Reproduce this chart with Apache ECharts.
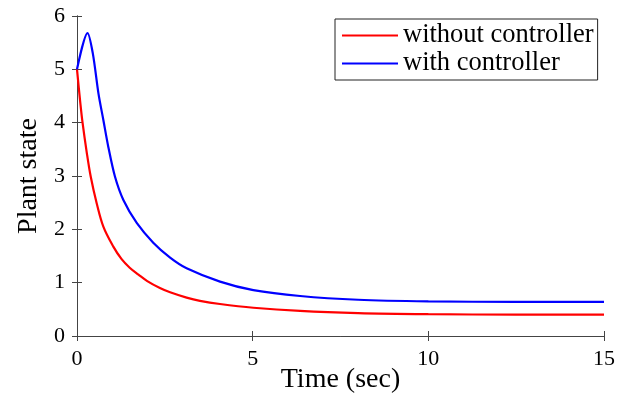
<!DOCTYPE html>
<html>
<head>
<meta charset="utf-8">
<script src="https://cdn.jsdelivr.net/npm/echarts@6/dist/echarts.min.js"></script>
<style>html,body{margin:0;padding:0;background:#fff}#c{width:628px;height:399px}</style>
</head>
<body>
<div id="c"></div>
<script>
var seriesNames = ['without controller', 'with controller'];
var timeWithout = [0, 0.085, 0.16, 0.28, 0.39, 0.56, 0.75, 1.03, 1.27, 1.5, 1.75, 2.0, 2.36, 2.65, 3.12, 3.5, 4.07, 5.02, 6.35, 8, 10, 12.5, 15];
var valWithout  = [5, 4.43, 3.99, 3.43, 2.99, 2.49, 2.05, 1.68, 1.44, 1.28, 1.15, 1.03, 0.90, 0.82, 0.72, 0.66, 0.60, 0.53, 0.47, 0.43, 0.41, 0.40, 0.40];
var timeWith = [0, 0.30, 0.45, 0.61, 0.75, 0.89, 1.08, 1.32, 1.70, 2.17, 2.65, 3.12, 4.07, 5.02, 6.35, 8, 10, 12.5, 15];
var valWith  = [5, 5.68, 5.3, 4.55, 4.05, 3.55, 2.99, 2.55, 2.12, 1.75, 1.47, 1.27, 1.02, 0.86, 0.75, 0.68, 0.65, 0.64, 0.64];
var xTicks = [0, 5, 10, 15];
var yTicks = [0, 1, 2, 3, 4, 5, 6];
var xTitle = 'Time (sec)';
var yTitle = 'Plant state';

function pairs(t, v) { return t.map(function (x, i) { return [x, v[i]]; }); }

var FONT = '"Liberation Serif", "Times New Roman", serif';
var axisColor = '#444';
var chart = echarts.init(document.getElementById('c'), null, {renderer: 'canvas'});
var grid = {left: 77, right: 24, top: 16, bottom: 63, containLabel: false, outerBoundsMode: 'none'};
var hiddenAxisCommon = {
  axisLine: {show: true, lineStyle: {color: axisColor, width: 1}},
  axisTick: {show: true, inside: true, length: 5, lineStyle: {color: axisColor}},
  axisLabel: {show: false},
  splitLine: {show: false}
};
chart.setOption({
  animation: false,
  backgroundColor: '#fff',
  grid: grid,
  legend: {
    orient: 'vertical',
    left: 335, top: 19,
    padding: [3, 4, 3, 7],
    itemGap: 1,
    itemWidth: 56, itemHeight: 2,
    icon: 'rect',
    borderColor: '#222', borderWidth: 1,
    backgroundColor: '#fff',
    textStyle: {fontFamily: FONT, fontSize: 26.5, color: '#000', lineHeight: 24.5, padding: [0, 0, 0, 0]},
    data: seriesNames
  },
  xAxis: [{
    type: 'value', min: xTicks[0], max: xTicks[xTicks.length - 1], interval: 5,
    name: xTitle, nameLocation: 'middle', nameGap: 30, nameMoveOverlap: false,
    nameTextStyle: {fontFamily: FONT, fontSize: 28, color: '#000', verticalAlign: 'top'},
    axisLine: {show: true, lineStyle: {color: axisColor, width: 1}},
    axisTick: {show: true, inside: true, length: 5, lineStyle: {color: axisColor}},
    axisLabel: {fontFamily: FONT, fontSize: 22, color: '#000', margin: 12},
    splitLine: {show: false}
  }, Object.assign({type: 'value', position: 'top', min: 0, max: 15, interval: 5}, hiddenAxisCommon)],
  yAxis: [{
    type: 'value', min: yTicks[0], max: yTicks[yTicks.length - 1], interval: 1,
    name: yTitle, nameLocation: 'middle', nameGap: 34,
    nameTextStyle: {fontFamily: FONT, fontSize: 28, color: '#000'},
    axisLine: {show: true, lineStyle: {color: axisColor, width: 1}},
    axisTick: {show: true, inside: true, length: 5, lineStyle: {color: axisColor}},
    axisLabel: {fontFamily: FONT, fontSize: 22, color: '#000', margin: 12},
    splitLine: {show: false}
  }, Object.assign({type: 'value', position: 'right', min: 0, max: 6, interval: 1}, hiddenAxisCommon)],
  series: [{
    name: seriesNames[0], type: 'line', showSymbol: false, symbol: 'none',
    data: pairs(timeWithout, valWithout), smooth: 0.35,
    lineStyle: {color: '#ff0000', width: 2.2}, itemStyle: {color: '#ff0000'}
  }, {
    name: seriesNames[1], type: 'line', showSymbol: false, symbol: 'none',
    data: pairs(timeWith, valWith), smooth: 0.3,
    lineStyle: {color: '#0000ff', width: 2.2}, itemStyle: {color: '#0000ff'}
  }]
});
</script>
</body>
</html>
